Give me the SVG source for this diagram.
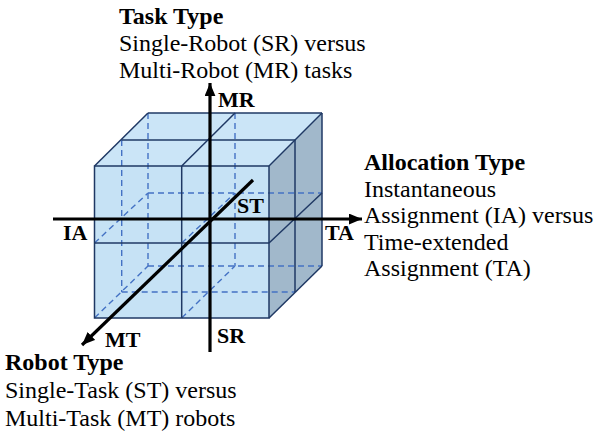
<svg xmlns="http://www.w3.org/2000/svg" width="604" height="435" viewBox="0 0 604 435">
  <style>
    .face-front { fill: #c6e2f5; }
    .face-top { fill: #cbe5f7; }
    .face-side { fill: #a1b8cb; }
    .edge { stroke: #1f3864; stroke-width: 1.5; fill: none; }
    .hidden { stroke: #4472c4; stroke-width: 1.4; stroke-dasharray: 6 4; fill: none; }
    .axis { stroke: #000; stroke-width: 3.2; fill: none; }
    text { fill: #000; }
    .axis-label { font-weight: bold; font-size: 22px; }
    .title { font-weight: bold; font-size: 24px; }
    .desc { font-size: 24px; }
  </style>
  <defs>
    <marker id="arrow" viewBox="0 0 12 10" refX="12" refY="5" markerWidth="13" markerHeight="11" markerUnits="userSpaceOnUse" orient="auto">
      <path d="M0,0 L12,5 L0,10 z" fill="#000"/>
    </marker>
  </defs>

  <!-- 2x2x2 cube -->
  <g id="cube">
    <!-- faces -->
    <polygon class="face-top" points="94.5,166 269,166 322,113 148,113"/>
    <polygon class="face-side" points="269,166 322,113 322,266 269,318"/>
    <rect class="face-front" x="94.5" y="166" width="174.5" height="152"/>

    <!-- hidden edges -->
    <line class="hidden" x1="148" y1="113" x2="148" y2="266"/>
    <line class="hidden" x1="235" y1="113" x2="235" y2="266"/>
    <line class="hidden" x1="148" y1="193" x2="322" y2="193"/>
    <line class="hidden" x1="148" y1="266" x2="322" y2="266"/>
    <line class="hidden" x1="121.7" y1="140" x2="121.7" y2="292"/>
    <line class="hidden" x1="121.7" y1="292" x2="295" y2="292"/>
    <line class="hidden" x1="94.5" y1="243" x2="148" y2="193"/>
    <line class="hidden" x1="181.7" y1="243" x2="235" y2="193"/>
    <line class="hidden" x1="94.5" y1="318" x2="148" y2="266"/>
    <line class="hidden" x1="181.7" y1="318" x2="235" y2="266"/>

    <!-- visible edges: front face -->
    <rect class="edge" x="94.5" y="166" width="174.5" height="152"/>
    <line class="edge" x1="181.7" y1="166" x2="181.7" y2="318"/>
    <line class="edge" x1="94.5" y1="243" x2="269" y2="243"/>
    <!-- top face -->
    <line class="edge" x1="148" y1="113" x2="322" y2="113"/>
    <line class="edge" x1="121.7" y1="140" x2="295" y2="140"/>
    <line class="edge" x1="94.5" y1="166" x2="148" y2="113"/>
    <line class="edge" x1="181.7" y1="166" x2="235" y2="113"/>
    <line class="edge" x1="269" y1="166" x2="322" y2="113"/>
    <!-- right face -->
    <line class="edge" x1="322" y1="113" x2="322" y2="266"/>
    <line class="edge" x1="295" y1="140" x2="295" y2="292"/>
    <line class="edge" x1="269" y1="243" x2="322" y2="193"/>
    <line class="edge" x1="269" y1="318" x2="322" y2="266"/>
  </g>

  <!-- axes -->
  <g id="axes">
    <line class="axis" x1="53" y1="219" x2="362" y2="219" marker-end="url(#arrow)"/>
    <line class="axis" x1="210" y1="352" x2="210" y2="83" marker-end="url(#arrow)"/>
    <line class="axis" x1="253" y1="180" x2="82" y2="345" marker-end="url(#arrow)"/>
  </g>

  <!-- all labels set in a Times-metric serif -->
  <g font-family="'Liberation Serif', 'DejaVu Serif', serif">
    <g id="axis-labels">
      <text class="axis-label" x="218" y="107">MR</text>
      <text class="axis-label" x="217" y="343">SR</text>
      <text class="axis-label" x="237" y="213">ST</text>
      <text class="axis-label" x="105" y="347">MT</text>
      <text class="axis-label" x="63" y="240">IA</text>
      <text class="axis-label" x="325" y="240">TA</text>
    </g>

    <g id="task-type">
      <text class="title" x="119" y="24">Task Type</text>
      <text class="desc" x="119" y="51">Single-Robot (SR) versus</text>
      <text class="desc" x="119" y="78">Multi-Robot (MR) tasks</text>
    </g>

    <g id="allocation-type">
      <text class="title" x="364" y="170">Allocation Type</text>
      <text class="desc" x="364" y="197">Instantaneous</text>
      <text class="desc" x="364" y="223">Assignment (IA) versus</text>
      <text class="desc" x="364" y="250">Time-extended</text>
      <text class="desc" x="364" y="276">Assignment (TA)</text>
    </g>

    <g id="robot-type">
      <text class="title" x="5" y="370">Robot Type</text>
      <text class="desc" x="5" y="398">Single-Task (ST) versus</text>
      <text class="desc" x="5" y="426">Multi-Task (MT) robots</text>
    </g>
  </g>
</svg>
